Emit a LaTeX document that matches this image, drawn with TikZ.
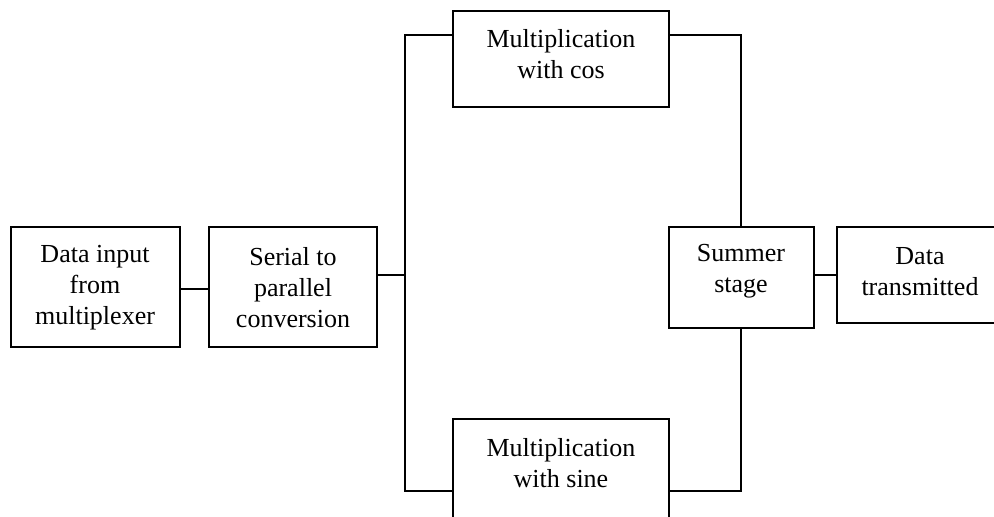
\documentclass[tikz,border=0pt]{standalone}
\usepackage{fontspec}
\setmainfont{Liberation Serif}
\begin{document}
\begin{tikzpicture}[x=1pt,y=-1pt,
  box/.style={draw, line width=2.2pt, inner sep=0pt},
  txt/.style={align=center, inner sep=0pt, font=\fontsize{26}{31}\selectfont},
  wire/.style={line width=2pt}]
\clip (0,0) rectangle (994,517);
% boxes
\node[box, minimum width=169pt, minimum height=120pt] (in) at (95.5,287) {};
\node[box, minimum width=168pt, minimum height=120pt] (sp) at (293,287) {};
\node[box, minimum width=216pt, minimum height=96pt] (cos) at (561,59) {};
\node[box, minimum width=216pt, minimum height=110pt] (sin) at (561,474) {};
\node[box, minimum width=144.6pt, minimum height=101pt] (sum) at (741.3,277.5) {};
\node[box, minimum width=166pt, minimum height=96pt] (dt) at (920,275) {};
% texts
\node[txt] (intx) at (95,287.5) {Data input\\from\\multiplexer};
\node[txt] (sptx) at (293,287.5) {Serial to\\parallel\\conversion};
\node[txt] (costx) at (561,54.5) {Multiplication\\with cos};
\node[txt] (sintx) at (561,463.5) {Multiplication\\with sine};
\node[txt] (sumtx) at (741,271.5) {Summer\\stage};
\node[txt] (dttx) at (920,271.5) {Data\\transmitted};
% junction coordinates
\coordinate (j1) at (194,289);
\coordinate (bt) at (405,35);
\coordinate (bm) at (405,275);
\coordinate (bb) at (405,491);
\coordinate (rt) at (741.3,35);
\coordinate (rb) at (741.3,491);
\coordinate (dm) at (825,275);
% connectors
\draw[wire] (in.east |- j1) -- (sp.west |- j1);
\draw[wire] (sp.east |- bm) -- (bm);
\draw[wire] (bt -| cos.west) -- (bt) -- (bb) -- (bb -| sin.west);
\draw[wire] (rt -| cos.east) -- (rt) -- (sum.north);
\draw[wire] (rb -| sin.east) -- (rb) -- (sum.south);
\draw[wire] (sum.east |- dm) -- (dt.west |- dm);
\end{tikzpicture}
\end{document}
